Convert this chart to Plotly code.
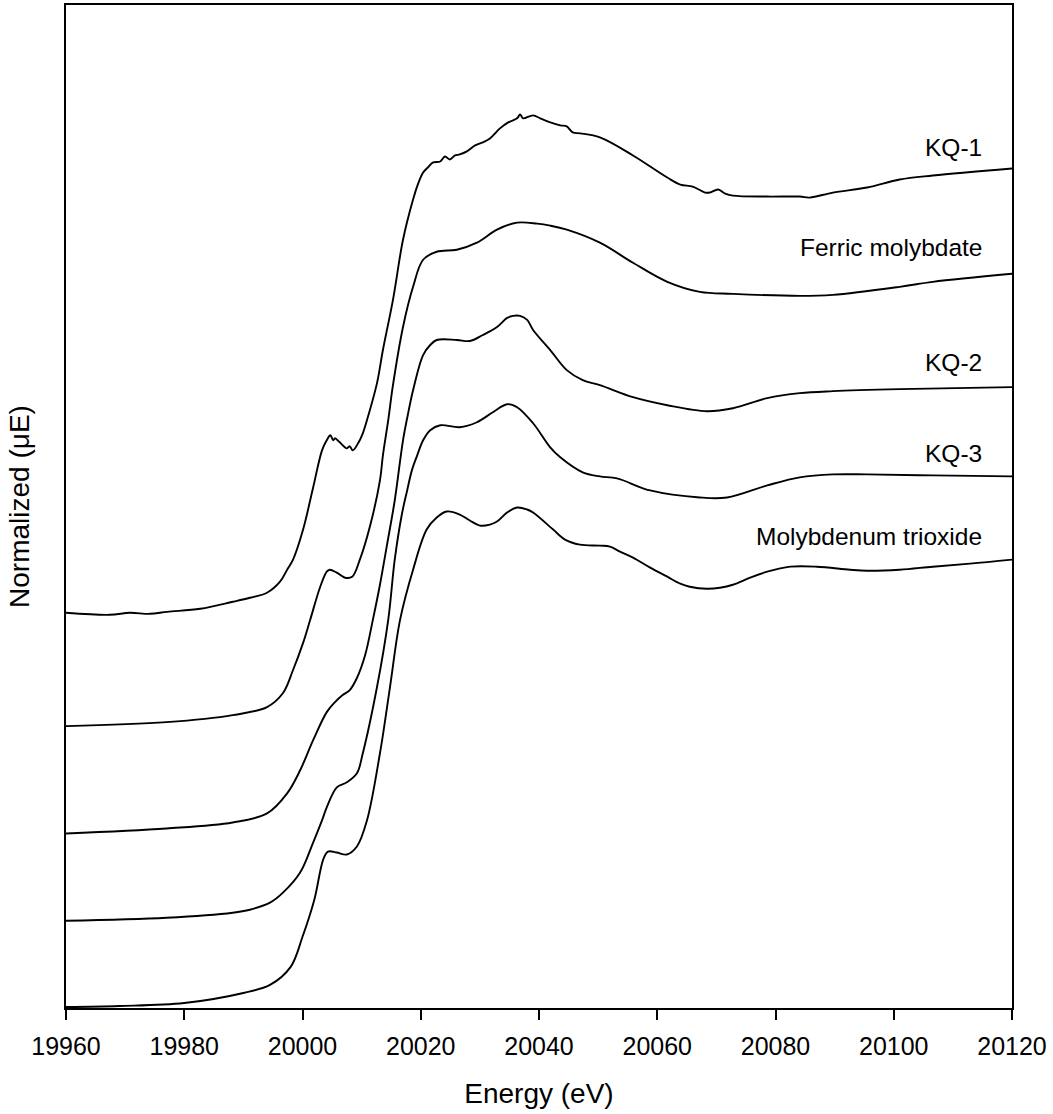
import plotly.graph_objects as go

# ---- data (energy in eV, normalized absorption with vertical offsets) ----
moo3_e = [19960, 19969, 19980, 19990, 19994.5, 19998, 20000, 20002, 20003.5, 20004.3,
          20005.8, 20007.5, 20009.2, 20010.9, 20013.1, 20014.8, 20016.5, 20018.7, 20021, 20022.7,
          20024.4, 20026.6, 20028.3, 20030, 20031.7, 20032.9, 20034.6, 20036.3, 20038, 20039,
          20042.4, 20044.4, 20046.9, 20050.3, 20052, 20053.7, 20055.9, 20058.8, 20061.7, 20063.9,
          20065.5, 20068.4, 20070.6, 20072.8, 20075.7, 20078.6, 20082.5, 20087, 20092.6, 20095.5,
          20101, 20106.6, 20112.9, 20120]
moo3_y = [0.01, 0.02, 0.05, 0.15, 0.23, 0.41, 0.71, 1.08, 1.48, 1.56,
          1.55, 1.53, 1.61, 1.87, 2.54, 3.20, 3.87, 4.37, 4.77, 4.89,
          4.95, 4.92, 4.86, 4.81, 4.82, 4.85, 4.94, 4.99, 4.97, 4.94,
          4.77, 4.67, 4.62, 4.61, 4.60, 4.55, 4.49, 4.39, 4.30, 4.23,
          4.20, 4.18, 4.19, 4.22, 4.29, 4.35, 4.40, 4.40, 4.37, 4.36,
          4.37, 4.40, 4.43, 4.47]

kq3_e = [19960, 19977, 19988.2, 19991.1, 19994.5, 19996.7, 19999.6, 20001.8, 20003.3, 20004.1,
         20005.8, 20007.5, 20009.2, 20010.2, 20012.6, 20014.5, 20015.6, 20016.8, 20017.7, 20018.5,
         20019.4, 20020.4, 20021.6, 20023.3, 20026.6, 20029.5, 20032.2, 20034.6, 20036.3, 20039,
         20041.9, 20043.6, 20047.4, 20050.3, 20053.2, 20058.8, 20067.2, 20071.8, 20078.6, 20084.1,
         20089.7, 20095.5, 20106.6, 20120]
kq3_y = [0.87, 0.90, 0.95, 0.98, 1.05, 1.15, 1.35, 1.65, 1.87, 2.00,
         2.20, 2.25, 2.34, 2.54, 3.20, 3.87, 4.47, 4.92, 5.16, 5.36,
         5.51, 5.66, 5.76, 5.81, 5.79, 5.84, 5.94, 6.02, 5.99, 5.83,
         5.59, 5.49, 5.34, 5.30, 5.28, 5.16, 5.09, 5.09, 5.21, 5.29,
         5.32, 5.32, 5.31, 5.30]

kq2_e = [19960, 19977, 19988.2, 19994, 19997.4, 19999.6, 20001.8, 20004.1, 20005.5, 20006.8,
         20008, 20009.2, 20010.6, 20011.9, 20013.1, 20014.3, 20015.6, 20017, 20017.8, 20018.7,
         20020.4, 20021.6, 20022.7, 20026.1, 20028.3, 20030.5, 20032.9, 20034.6, 20035.6, 20036.8,
         20038, 20039, 20041.9, 20044.7, 20047.4, 20050.3, 20055.9, 20061.7, 20068.4, 20072.8,
         20078.6, 20084.1, 20089.7, 20101, 20120]
kq2_y = [1.74, 1.79, 1.85, 1.94, 2.14, 2.37, 2.67, 2.95, 3.05, 3.12,
         3.17, 3.29, 3.52, 3.87, 4.22, 4.62, 5.06, 5.66, 5.91, 6.16,
         6.51, 6.61, 6.66, 6.66, 6.65, 6.71, 6.79, 6.88, 6.90, 6.90,
         6.86, 6.76, 6.56, 6.36, 6.26, 6.21, 6.09, 6.01, 5.95, 5.98,
         6.08, 6.13, 6.15, 6.17, 6.19]

fm_e = [19960, 19977, 19988.2, 19994, 19996.7, 19998.4, 20000.1, 20001.3, 20003, 20004.1,
        20004.6, 20005.8, 20007.2, 20008.4, 20009.7, 20011.4, 20013.1, 20013.6, 20014.5, 20015.3,
        20017, 20018.7, 20020.4, 20022.7, 20026.1, 20029.5, 20032.9, 20036.3, 20039.7, 20041.9,
        20044.7, 20050.3, 20055.9, 20061.7, 20067.2, 20072.8, 20084.1, 20089.7, 20101, 20106.6,
        20120]
fm_y = [2.81, 2.85, 2.92, 3.00, 3.14, 3.37, 3.64, 3.87, 4.20, 4.35,
        4.37, 4.34, 4.29, 4.30, 4.47, 4.80, 5.26, 5.51, 5.86, 6.21,
        6.79, 7.19, 7.46, 7.54, 7.56, 7.63, 7.76, 7.83, 7.82, 7.80,
        7.76, 7.63, 7.43, 7.24, 7.14, 7.12, 7.10, 7.11, 7.19, 7.24,
        7.32]

kq1_e = [19960, 19967.4, 19970.8, 19974.2, 19977.1, 19982.7, 19988.2, 19991.1, 19994, 19996.2,
         19997.4, 19998.4, 20000.1, 20001.8, 20003.3, 20004.1, 20004.7, 20005.2, 20005.5, 20006.3,
         20007.5, 20008, 20008.5, 20009.4, 20010.2, 20010.9, 20012.6, 20013.6, 20015.3, 20017,
         20018.7, 20019.5, 20020.4, 20021.2, 20022.1, 20023.3, 20024.1, 20024.9, 20025.8, 20026.6,
         20027.8, 20029.2, 20030.5, 20031.7, 20033.4, 20034.8, 20036.3, 20036.8, 20037.3, 20039,
         20040.2, 20041.9, 20043.6, 20044.7, 20045.7, 20047, 20050.3, 20055.9, 20061.7, 20063.9,
         20066, 20068.1, 20068.9, 20070.3, 20071.5, 20072.8, 20078.6, 20084.1, 20085.8, 20089.7,
         20095.5, 20101, 20106.6, 20120]
kq1_y = [3.94, 3.92, 3.94, 3.93, 3.95, 3.98, 4.05, 4.09, 4.14, 4.25,
         4.37, 4.47, 4.77, 5.19, 5.56, 5.66, 5.71, 5.66, 5.68, 5.64,
         5.58, 5.60, 5.56, 5.63, 5.73, 5.86, 6.23, 6.56, 7.06, 7.66,
         8.06, 8.21, 8.33, 8.38, 8.43, 8.44, 8.49, 8.46, 8.50, 8.51,
         8.54, 8.60, 8.63, 8.67, 8.77, 8.83, 8.87, 8.91, 8.87, 8.90,
         8.87, 8.83, 8.80, 8.79, 8.73, 8.72, 8.68, 8.50, 8.28, 8.21,
         8.19, 8.13, 8.13, 8.16, 8.12, 8.10, 8.09, 8.09, 8.08, 8.13,
         8.18, 8.26, 8.30, 8.37]

series_names = ["KQ-1", "Ferric molybdate", "KQ-2", "KQ-3", "Molybdenum trioxide"]
series_e = [kq1_e, fm_e, kq2_e, kq3_e, moo3_e]
series_y = [kq1_y, fm_y, kq2_y, kq3_y, moo3_y]
label_y = [8.58, 7.58, 6.44, 5.53, 4.70]
label_x = 20115.2

x_ticks = [19960, 19980, 20000, 20020, 20040, 20060, 20080, 20100, 20120]

FONT = "Liberation Sans, Arial, sans-serif"

fig = go.Figure()
for name, ex, ey in zip(series_names, series_e, series_y):
    fig.add_trace(go.Scatter(
        x=ex, y=ey, mode="lines", name=name,
        line=dict(color="black", width=1.9, shape="spline", smoothing=1.0),
        showlegend=False,
    ))

for name, ly in zip(series_names, label_y):
    fig.add_annotation(x=label_x, y=ly, text=name, showarrow=False,
                       xanchor="right", yanchor="middle",
                       font=dict(family=FONT, size=24.5, color="black"))

fig.update_layout(
    width=1053, height=1114,
    margin=dict(l=66, r=41, t=5, b=106),
    plot_bgcolor="white", paper_bgcolor="white",
    font=dict(family=FONT, color="black"),
)
fig.update_xaxes(
    range=[19960, 20120], tickvals=x_ticks, ticktext=[str(v) for v in x_ticks],
    ticks="outside", ticklen=10, tickwidth=2, tickcolor="black",
    ticklabelstandoff=5,
    tickfont=dict(family=FONT, size=25, color="black"),
    showline=True, linewidth=2, linecolor="black", mirror=True,
    showgrid=False, zeroline=False,
    title=dict(text="Energy (eV)", font=dict(family=FONT, size=28, color="black"), standoff=24),
    automargin=False,
)
fig.update_yaxes(
    range=[0, 10], showticklabels=False, ticks="",
    showline=True, linewidth=2, linecolor="black", mirror=True,
    showgrid=False, zeroline=False,
    title=dict(text="Normalized (\u03bcE)", font=dict(family=FONT, size=28, color="black"), standoff=26),
    automargin=False,
)

fig.write_html("out.html")
